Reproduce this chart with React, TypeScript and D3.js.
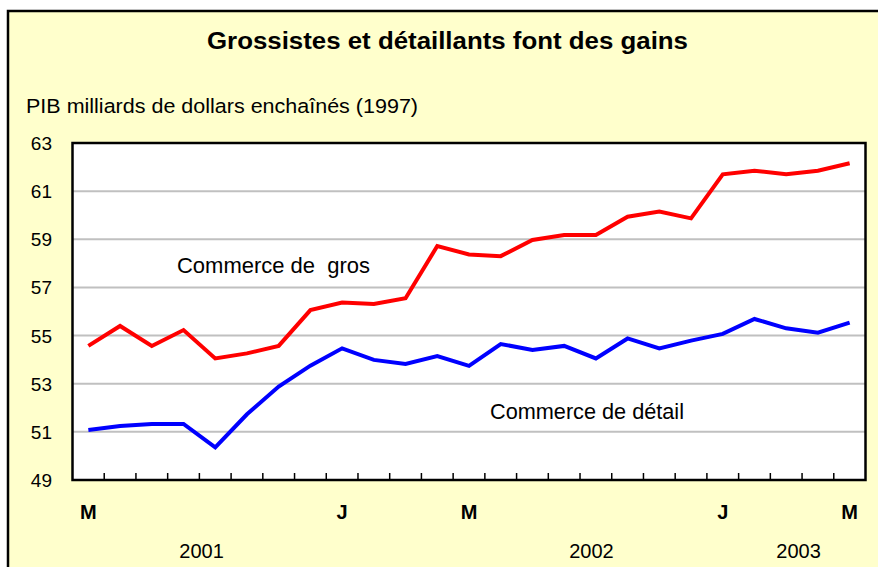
import React from "react";
import * as d3 from "d3";

const months = ["M","J","J","A","S","O","N","D","J","F","M","A","M","J","J","A","S","O","N","D","J","F","M","A","M"];
const shownLabels = [0, 8, 12, 20, 24];
const gros = [54.57,55.4,54.57,55.23,54.05,54.26,54.57,56.06,56.37,56.31,56.55,58.72,58.37,58.3,58.97,59.18,59.18,59.94,60.15,59.87,61.7,61.85,61.7,61.85,62.16];
const detail = [51.08,51.24,51.33,51.33,50.36,51.73,52.88,53.75,54.47,53.99,53.82,54.15,53.74,54.65,54.4,54.57,54.05,54.88,54.47,54.79,55.07,55.69,55.3,55.12,55.54];
const yTicks = [49,51,53,55,57,59,61,63];
const years = [{ label: "2001", pos: 4.07 }, { label: "2002", pos: 16.36 }, { label: "2003", pos: 22.89 }];

const W = 878, H = 567;
const FONT = "'Liberation Sans', Arial, sans-serif";

export default function App() {
  const idx = months.map((_, i) => i);
  const x = d3.scaleBand<number>().domain(idx).range([72.5, 865.5]).padding(0);
  const bw = x.bandwidth();
  const cx = (i: number) => (x(i) as number) + bw / 2;
  const y = d3.scaleLinear().domain([49, 63]).range([480, 143]);
  const line = d3.line<number>().x((_, i) => cx(i)).y((d) => y(d));
  const [x0, x1] = x.range();
  const [yb, yt] = y.range();
  const posX = (p: number) => x0 + p * bw;

  return (
    <svg width={W} height={H} style={{ position: "absolute", left: 0, top: 0, background: "#fff" }} fontFamily={FONT}>
      <rect x={8} y={11} width={W} height={H} fill="#FFFFCC" stroke="#000" strokeWidth={2.5} />
      <text x={207} y={49} fontSize={23} fontWeight="bold" textLength={481} lengthAdjust="spacingAndGlyphs">Grossistes et détaillants font des gains</text>
      <text x={26} y={113} fontSize={20.5} textLength={392} lengthAdjust="spacingAndGlyphs">PIB milliards de dollars enchaînés (1997)</text>
      <rect x={x0} y={yt} width={x1 - x0} height={yb - yt} fill="#fff" />
      {yTicks.slice(1, -1).map((t) => (
        <line key={t} x1={x0} x2={x1} y1={y(t)} y2={y(t)} stroke="#C0C0C0" strokeWidth={2} />
      ))}
      {idx.slice(1).map((i) => (
        <line key={i} x1={x(i) as number} x2={x(i) as number} y1={yb} y2={yb - 7} stroke="#000" strokeWidth={1.5} />
      ))}
      <rect x={x0} y={yt} width={x1 - x0} height={yb - yt} fill="none" stroke="#000" strokeWidth={2.5} />
      {yTicks.map((t) => (
        <text key={t} x={52} y={y(t) + 7} textAnchor="end" fontSize={19}>{t}</text>
      ))}
      {shownLabels.map((i) => (
        <text key={i} x={cx(i)} y={519} textAnchor="middle" fontSize={20} fontWeight="bold">{months[i]}</text>
      ))}
      {years.map((yr) => (
        <text key={yr.label} x={posX(yr.pos)} y={558} textAnchor="middle" fontSize={20}>{yr.label}</text>
      ))}
      <path d={line(gros) || ""} fill="none" stroke="#FF0000" strokeWidth={4} strokeLinejoin="miter" />
      <path d={line(detail) || ""} fill="none" stroke="#0000FF" strokeWidth={4} strokeLinejoin="miter" />
      <text x={177} y={273} fontSize={21.5} style={{ whiteSpace: "pre" }} textLength={193} lengthAdjust="spacingAndGlyphs">{"Commerce de  gros"}</text>
      <text x={490} y={419} fontSize={21.5} textLength={194} lengthAdjust="spacingAndGlyphs">Commerce de détail</text>
    </svg>
  );
}
